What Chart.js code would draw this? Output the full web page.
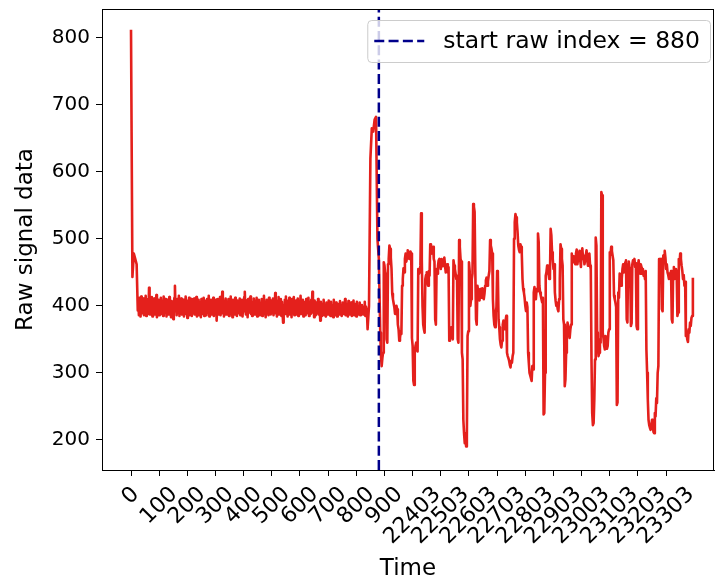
<!DOCTYPE html>
<html>
<head>
<meta charset="utf-8">
<script src="https://cdn.jsdelivr.net/npm/chart.js@4.4.1/dist/chart.umd.min.js"></script>
<style>
  html, body { margin: 0; padding: 0; background: #fff; }
  #wrap { width: 715px; height: 583px; }
</style>
</head>
<body>
<div id="wrap"><canvas id="rawChart" width="715" height="583"></canvas></div>
<script>
// index brut où commence le signal utile
const startRawIndex = 880;

// valeurs, par tronçons (index de départ + pas entre deux points)
const warmupStart = 0, warmupStep = 5;
const warmupValues = [812, 443, 478, 470, 462];

const baselineStart = 24, baselineStep = 2;
const baselineValues = [
  393, 408, 386, 412, 399, 384, 414, 394, 405, 389, 411, 386, 403, 396, 415, 385, 406, 392, 410, 388,
  427, 400, 387, 409, 394, 413, 384, 405, 391, 411, 387, 402, 395, 416, 383, 406, 397, 409, 386, 403,
  392, 412, 388, 400, 408, 385, 414, 396, 390, 410, 401, 384, 409, 394, 405, 387, 413, 391, 400, 383,
  407, 395, 388, 380, 403, 412, 430, 392, 406, 386, 410, 398, 389, 415, 385, 405, 394, 411, 387, 402,
  391, 409, 384, 407, 395, 414, 388, 400, 382, 408, 394, 412, 386, 403, 392, 410, 385, 405, 397, 389,
  411, 387, 402, 394, 413, 384, 407, 391, 409, 386, 398, 405, 383, 410, 392, 402, 388, 412, 385, 404,
  395, 408, 386, 410, 390, 400, 415, 384, 405, 394, 409, 387, 402, 391, 412, 385, 406, 395, 388, 409,
  378, 398, 410, 387, 406, 392, 413, 386, 403, 395, 421, 389, 408, 384, 401, 394, 411, 387, 405, 391,
  400, 410, 385, 407, 394, 414, 388, 402, 383, 409, 395, 405, 387, 412, 391, 400, 385, 408, 394, 403,
  389, 411, 386, 405, 395, 409, 384, 401, 392, 413, 421, 394, 387, 408, 399, 383, 410, 390, 404, 397,
  414, 388, 406, 385, 402, 394, 411, 387, 408, 395, 389, 412, 384, 403, 392, 409, 386, 405, 397, 390,
  410, 385, 401, 394, 415, 388, 406, 383, 399, 409, 391, 404, 386, 412, 394, 405, 387, 408, 397, 389,
  411, 386, 403, 394, 419, 389, 408, 384, 405, 395, 413, 387, 401, 392, 410, 385, 406, 391, 375, 401,
  397, 409, 388, 414, 394, 403, 384, 408, 392, 412, 387, 399, 406, 383, 410, 395, 389, 413, 386, 405,
  394, 408, 387, 401, 411, 385, 405, 397, 390, 415, 388, 403, 395, 409, 384, 406, 392, 399, 386, 410,
  389, 401, 394, 412, 385, 406, 395, 388, 409, 399, 421, 390, 403, 383, 408, 394, 386, 405, 397, 389,
  410, 387, 401, 392, 378, 406, 395, 385, 403, 391, 409, 386, 399, 394, 384, 405, 390, 401, 387, 408,
  392, 398, 385, 406, 389, 401, 394, 383, 409, 390, 399, 386, 405, 394, 384, 403, 391, 398, 387, 407,
  390, 401, 385, 397, 405, 388, 399, 392, 410, 386, 398, 390, 403, 384, 407, 394, 387, 399, 391, 405,
  385, 397, 390, 408, 386, 398, 392, 403, 384, 406, 391, 399, 387, 397, 405, 386, 395, 390, 401, 393,
  387, 398, 391, 406, 385, 399, 394, 388
];

const jumpStart = 840, jumpStep = 5;
const jumpValues = [365, 400, 620, 665, 660, 678, 682, 500, 470];

const signalStart = 885, signalStep = 2.5;
const signalValues = [
  360, 325, 310, 322, 330, 465, 460, 448, 440, 350, 345, 462, 470, 490, 485, 472, 455, 418, 410, 404,
  398, 388, 392, 400, 395, 372, 365, 348, 352, 362, 358, 430, 440, 456, 450, 470, 478, 466, 472, 483,
  480, 470, 474, 481, 478, 352, 340, 288, 282, 330, 340, 345, 335, 332, 455, 448, 450, 460, 538, 470,
  400, 372, 365, 360, 440, 446, 450, 436, 430, 452, 445, 492, 490, 478, 485, 488, 470, 466, 380, 372,
  455, 448, 460, 468, 470, 462, 455, 470, 465, 459, 468, 472, 460, 450, 455, 462, 450, 458, 348, 352,
  360, 368, 355, 350, 468, 460, 455, 448, 440, 445, 350, 345, 498, 488, 470, 466, 330, 320, 230, 210,
  195, 200, 190, 205, 355, 362, 465, 452, 400, 410, 440, 448, 552, 548, 540, 452, 380, 372, 430, 422,
  415, 408, 425, 418, 412, 426, 420, 410, 418, 430, 438, 442, 430, 436, 445, 452, 498, 490, 485, 478,
  410, 385, 372, 368, 390, 398, 452, 448, 380, 368, 350, 342, 338, 348, 372, 378, 365, 370, 378, 385,
  330, 325, 322, 318, 312, 308, 318, 315, 325, 330, 500, 525, 537, 532, 525, 510, 490, 484, 480, 492,
  488, 478, 440, 425, 420, 412, 400, 392, 405, 398, 330, 315, 300, 296, 292, 288, 310, 305, 420, 428,
  415, 410, 425, 422, 508, 495, 430, 420, 415, 410, 405, 412, 238, 240, 300, 445, 450, 460, 455, 448,
  440, 445, 515, 505, 480, 470, 455, 462, 420, 408, 400, 405, 395, 392, 410, 440, 492, 485, 470, 460,
  380, 372, 280, 290, 330, 355, 375, 368, 358, 352, 365, 372, 478, 470, 465, 474, 470, 462, 478, 484,
  462, 470, 475, 482, 468, 458, 480, 486, 470, 475, 462, 468, 476, 483, 468, 460, 472, 478, 460, 455,
  320, 240, 222, 225, 260, 320, 502, 490, 360, 340, 325, 330, 350, 345, 570, 565, 360, 352, 340, 335,
  355, 348, 336, 340, 360, 365, 480, 476, 488, 482, 475, 468, 415, 410, 405, 398, 252, 256, 420, 412,
  448, 445, 430, 440, 455, 462, 450, 455, 465, 468, 380, 375, 462, 466, 458, 455, 370, 374, 462, 468,
  465, 470, 458, 464, 370, 365, 460, 468, 455, 448, 462, 458, 448, 455, 445, 450, 440, 452, 335, 300,
  260, 230, 222, 218, 215, 220, 230, 225, 212, 210, 240, 235, 262, 255, 300, 310, 470, 458, 462, 470,
  395, 392, 475, 468, 482, 472, 455, 462, 450, 446, 440, 448, 445, 452, 380, 375, 450, 458, 440, 445,
  455, 448, 385, 390, 470, 462, 478, 470, 460, 452, 440, 446, 430, 436, 355, 362, 350, 346, 365, 360,
  375, 370, 382, 385, 442
];

// graduations
const tickIndex = [0, 100, 200, 300, 400, 500, 600, 700, 800, 900, 1000, 1100, 1200, 1300, 1400, 1500, 1600, 1700, 1800, 1900];
const tickLabels = ['0', '100', '200', '300', '400', '500', '600', '700', '800', '900',
  '22403', '22503', '22603', '22703', '22803', '22903', '23003', '23103', '23203', '23303'];
const yTicks = [200, 300, 400, 500, 600, 700, 800];

// on remet chaque tronçon à son index
const rawPoints = [];
function addSegment(values, start, step) {
  for (let i = 0; i < values.length; i++) {
    rawPoints.push({x: start + i * step, y: values[i]});
  }
}
addSegment(warmupValues, warmupStart, warmupStep);
addSegment(baselineValues, baselineStart, baselineStep);
addSegment(jumpValues, jumpStart, jumpStep);
addSegment(signalValues, signalStart, signalStep);

const yMin = 155;
const yMax = 843;
const font = '"DejaVu Sans", sans-serif';
const xTickFont = 22;
Chart.defaults.font.family = font;

// cadre + labels x pivotés à 45° + légende
const decor = {
  id: 'decor',
  afterDatasetsDraw(chart) {
    const {ctx, chartArea: a} = chart;
    ctx.save();
    ctx.strokeStyle = '#000';
    ctx.lineWidth = 1;
    ctx.strokeRect(Math.round(a.left) + 0.5, Math.round(a.top) + 0.5,
      Math.round(a.right - a.left) - 1, Math.round(a.bottom - a.top));
    ctx.restore();
  },
  afterDraw(chart) {
    const {ctx, chartArea: a, scales} = chart;
    ctx.save();
    ctx.font = xTickFont + 'px ' + font;
    ctx.fillStyle = '#000';
    ctx.textAlign = 'center';
    ctx.textBaseline = 'middle';
    tickIndex.forEach((v, i) => {
      const w = ctx.measureText(tickLabels[i]).width;
      const cx = scales.x.getPixelForValue(v);
      const cy = a.bottom + 12 + (w + xTickFont * 1.17) * 0.3536;
      ctx.save();
      ctx.translate(cx, cy);
      ctx.rotate(-Math.PI / 4);
      ctx.fillText(tickLabels[i], 0, 0);
      ctx.restore();
    });

    // légende en haut à droite
    const label = 'start raw index = ' + startRawIndex;
    ctx.font = '23.5px ' + font;
    const tw = ctx.measureText(label).width;
    const right = a.right - 4;
    const top = a.top + 11;
    const h = 42;
    const textLeft = right - 10 - tw;
    const left = textLeft - 76;
    ctx.beginPath();
    ctx.roundRect(left + 0.5, top + 0.5, right - left, h, 4);
    ctx.fillStyle = 'rgba(255,255,255,0.8)';
    ctx.fill();
    ctx.strokeStyle = '#cccccc';
    ctx.lineWidth = 1;
    ctx.stroke();
    ctx.beginPath();
    ctx.setLineDash([10, 4.3]);
    ctx.strokeStyle = '#00008b';
    ctx.lineWidth = 2.5;
    ctx.moveTo(left + 7, top + h / 2);
    ctx.lineTo(left + 57, top + h / 2);
    ctx.stroke();
    ctx.setLineDash([]);
    ctx.fillStyle = '#000';
    ctx.textAlign = 'left';
    ctx.textBaseline = 'middle';
    ctx.fillText(label, textLeft, top + h / 2 + 1);
    ctx.restore();
  }
};

new Chart(document.getElementById('rawChart'), {
  type: 'line',
  data: {
    datasets: [
      {
        label: 'start raw index = ' + startRawIndex,
        data: [{x: startRawIndex, y: yMin}, {x: startRawIndex, y: yMax}],
        borderColor: '#00008b',
        borderDash: [10, 4.3],
        borderWidth: 2.5,
        pointRadius: 0
      },
      {
        label: 'raw',
        data: rawPoints,
        borderColor: 'rgb(228, 32, 28)',
        borderWidth: 2.6,
        borderJoinStyle: 'round',
        pointRadius: 0,
        tension: 0
      }
    ]
  },
  options: {
    responsive: false,
    animation: false,
    devicePixelRatio: 1,
    layout: {padding: {top: 9, right: 1, left: 0, bottom: 0}},
    plugins: {legend: {display: false}, tooltip: {enabled: false}},
    scales: {
      x: {
        type: 'linear',
        min: -103,
        max: 2070,
        afterBuildTicks: s => { s.ticks = tickIndex.map(v => ({value: v})); },
        afterFit: s => { s.height = 113; s.paddingLeft = 0; s.paddingRight = 0; },
        ticks: {display: false},
        grid: {drawOnChartArea: false, tickLength: 6, color: '#000'},
        border: {color: '#000'},
        title: {display: true, text: 'Time', color: '#000', font: {size: 23}, padding: {top: 0, bottom: 0}}
      },
      y: {
        min: yMin,
        max: yMax,
        afterBuildTicks: s => { s.ticks = yTicks.map(v => ({value: v})); },
        afterFit: s => { s.width = 102; s.paddingTop = 0; s.paddingBottom = 0; },
        ticks: {color: '#000', font: {size: 20}, padding: 6},
        grid: {drawOnChartArea: false, tickLength: 6, color: '#000'},
        border: {color: '#000'},
        title: {display: true, text: 'Raw signal data', color: '#000', font: {size: 23}, padding: {top: 12, bottom: 0}}
      }
    }
  },
  plugins: [decor]
});
</script>
</body>
</html>
